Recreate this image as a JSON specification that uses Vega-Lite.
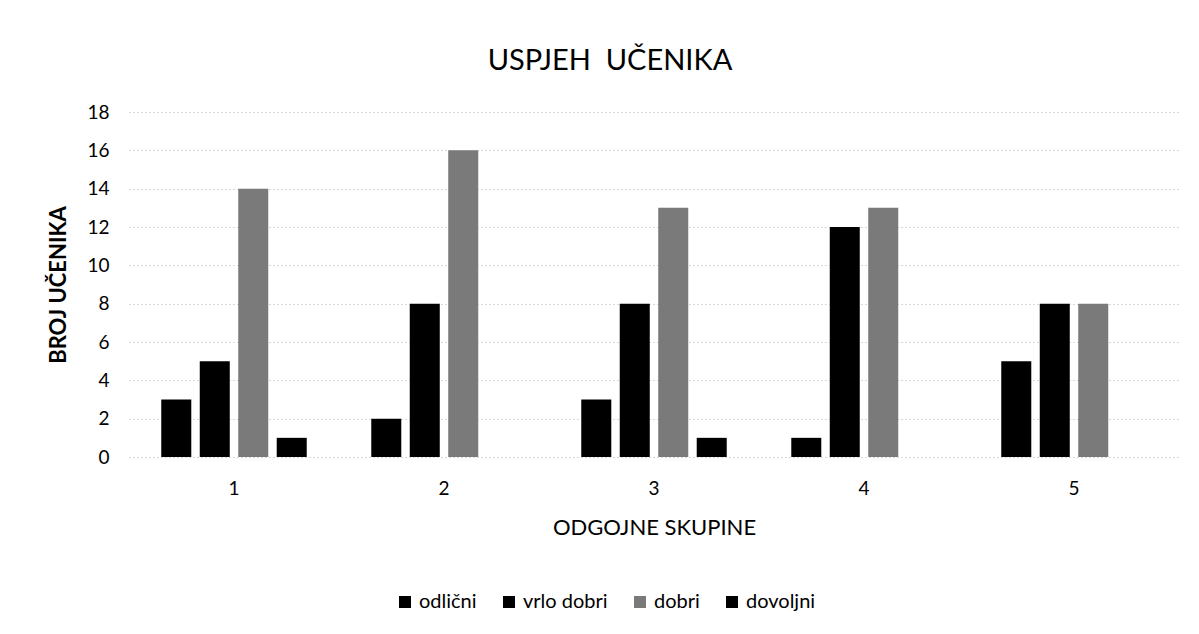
{
  "$schema": "https://vega.github.io/schema/vega-lite/v6.json",
  "width": 1050,
  "height": 345,
  "autosize": {"type": "none"},
  "padding": {"left": 129, "top": 112, "right": 20, "bottom": 177},
  "background": "white",
  "config": {"view": {"stroke": null}},
  "title": {"text": "USPJEH\u00a0 UČENIKA", "font": "Lato", "fontSize": 29, "fontWeight": "normal", "color": "#000000", "offset": 27, "dx": -44},
  "data": {
    "values": [
      {"skupina": "1", "ocjena": "odlični", "broj": 3},
      {"skupina": "1", "ocjena": "vrlo dobri", "broj": 5},
      {"skupina": "1", "ocjena": "dobri", "broj": 14},
      {"skupina": "1", "ocjena": "dovoljni", "broj": 1},
      {"skupina": "2", "ocjena": "odlični", "broj": 2},
      {"skupina": "2", "ocjena": "vrlo dobri", "broj": 8},
      {"skupina": "2", "ocjena": "dobri", "broj": 16},
      {"skupina": "2", "ocjena": "dovoljni", "broj": 0},
      {"skupina": "3", "ocjena": "odlični", "broj": 3},
      {"skupina": "3", "ocjena": "vrlo dobri", "broj": 8},
      {"skupina": "3", "ocjena": "dobri", "broj": 13},
      {"skupina": "3", "ocjena": "dovoljni", "broj": 1},
      {"skupina": "4", "ocjena": "odlični", "broj": 1},
      {"skupina": "4", "ocjena": "vrlo dobri", "broj": 12},
      {"skupina": "4", "ocjena": "dobri", "broj": 13},
      {"skupina": "4", "ocjena": "dovoljni", "broj": 0},
      {"skupina": "5", "ocjena": "odlični", "broj": 5},
      {"skupina": "5", "ocjena": "vrlo dobri", "broj": 8},
      {"skupina": "5", "ocjena": "dobri", "broj": 8},
      {"skupina": "5", "ocjena": "dovoljni", "broj": 0}
    ]
  },
  "mark": {"type": "bar"},
  "encoding": {
    "x": {
      "field": "skupina",
      "type": "ordinal",
      "title": "ODGOJNE SKUPINE",
      "scale": {"paddingInner": 0.267, "paddingOuter": 0.1335},
      "axis": {
        "labelAngle": 0,
        "domain": false,
        "ticks": false,
        "grid": false,
        "labelFont": "Lato",
        "labelFontSize": 19,
        "labelColor": "#000000",
        "labelPadding": 22,
        "titleFont": "Lato",
        "titleFontSize": 22,
        "titleFontWeight": "normal",
        "titleColor": "#000000",
        "titlePadding": 19
      }
    },
    "xOffset": {
      "field": "ocjena",
      "type": "nominal",
      "sort": ["odlični", "vrlo dobri", "dobri", "dovoljni"],
      "scale": {"paddingInner": 0.22, "paddingOuter": 0.11}
    },
    "y": {
      "field": "broj",
      "type": "quantitative",
      "title": "BROJ UČENIKA",
      "scale": {"domain": [0, 18], "nice": false},
      "axis": {
        "values": [0, 2, 4, 6, 8, 10, 12, 14, 16, 18],
        "domain": false,
        "ticks": false,
        "grid": true,
        "gridColor": "#b0b0b0",
        "gridDash": [1, 3],
        "labelFont": "Lato",
        "labelFontSize": 19,
        "labelColor": "#000000",
        "labelPadding": 20,
        "titleFont": "Lato",
        "titleFontSize": 22,
        "titleFontWeight": "bold",
        "titleColor": "#000000",
        "titlePadding": 16
      }
    },
    "color": {
      "field": "ocjena",
      "type": "nominal",
      "sort": ["odlični", "vrlo dobri", "dobri", "dovoljni"],
      "scale": {
        "domain": ["odlični", "vrlo dobri", "dobri", "dovoljni"],
        "range": ["#000000", "#000000", "#7a7a7a", "#000000"]
      },
      "legend": {
        "title": null,
        "orient": "none",
        "legendX": 266,
        "legendY": 480,
        "direction": "horizontal",
        "symbolType": "square",
        "symbolSize": 144,
        "symbolStrokeWidth": 0,
        "labelFont": "Lato",
        "labelFontSize": 20,
        "labelColor": "#000000",
        "labelOffset": 4,
        "columnPadding": 22
      }
    }
  }
}
